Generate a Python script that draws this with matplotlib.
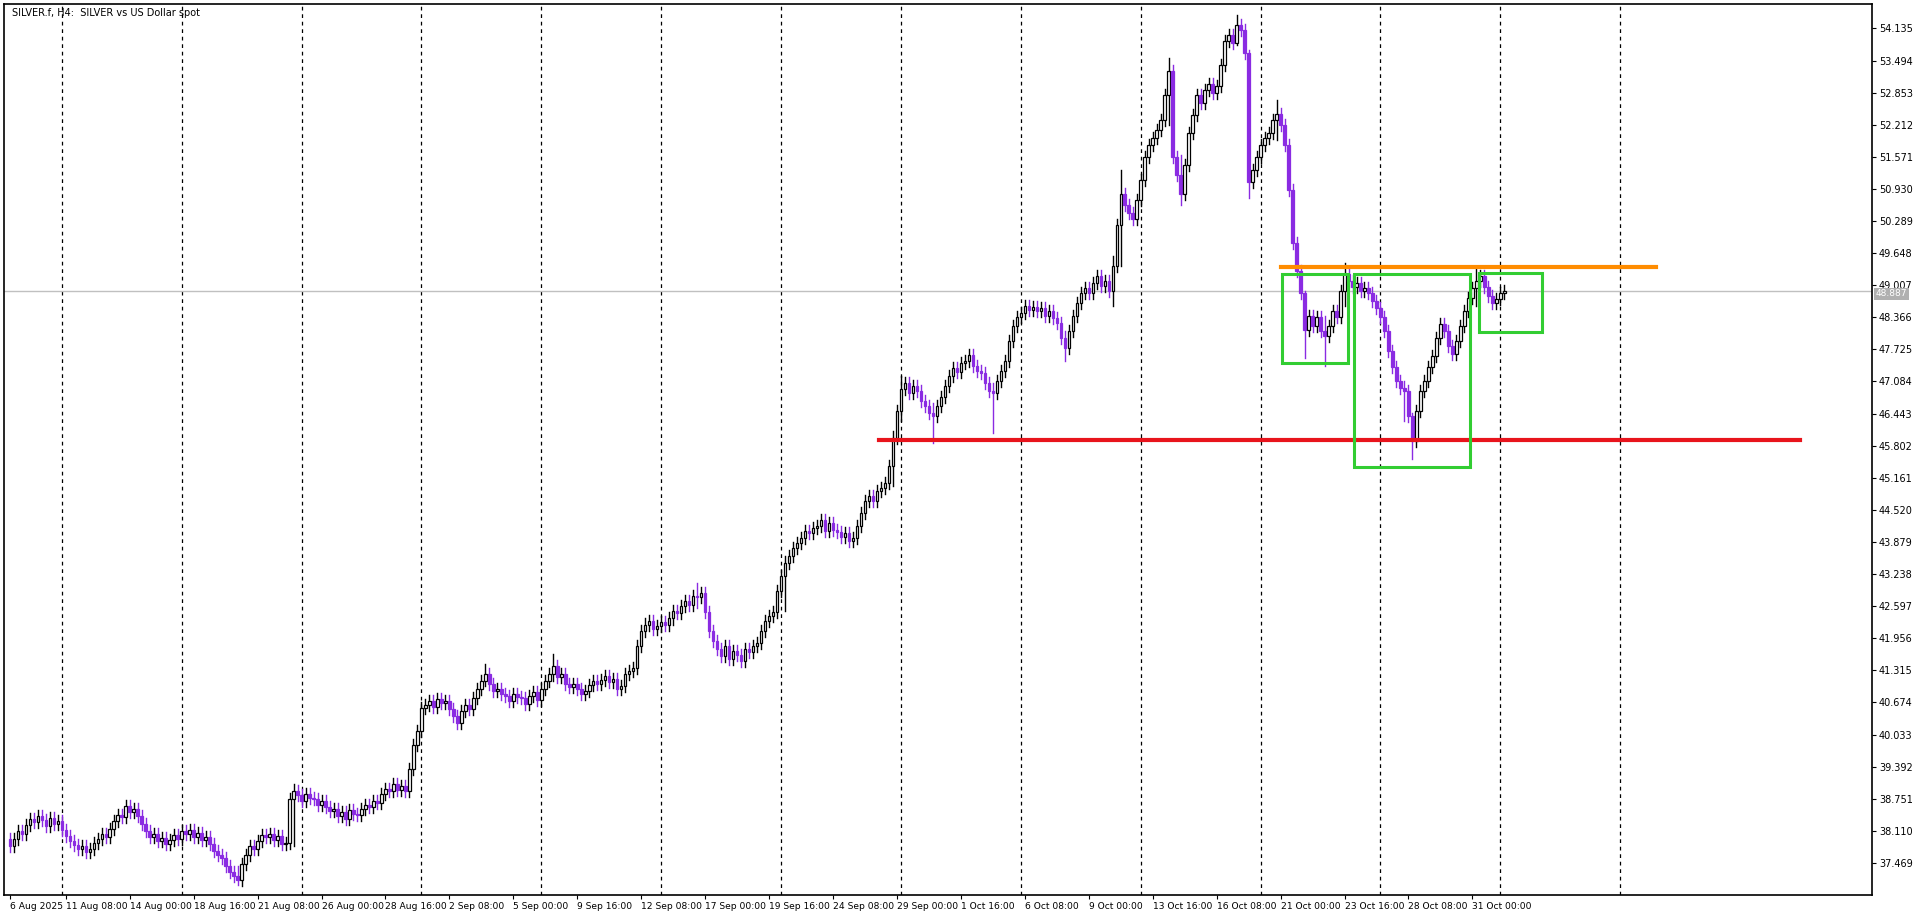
import numpy as np
import matplotlib.pyplot as plt
from matplotlib.patches import Rectangle

# H4 closes, one per bar
closes = [
    37.81, 37.95, 38.10, 38.05, 38.22, 38.35, 38.28, 38.40, 38.32, 38.20,
    38.36, 38.25, 38.30, 38.12, 38.00, 37.90, 37.82, 37.74, 37.80, 37.68,
    37.75, 37.86, 37.95, 38.05, 37.98, 38.15, 38.30, 38.43, 38.38, 38.60,
    38.48, 38.55, 38.40, 38.25, 38.10, 37.98, 38.05, 37.90, 37.96, 37.85,
    37.93, 38.02, 37.95, 38.10, 38.05, 38.12, 37.98, 38.06, 37.92, 37.98,
    37.85, 37.70, 37.62, 37.57, 37.40, 37.28, 37.20, 37.12, 37.45, 37.62,
    37.80, 37.75, 37.90, 38.02, 37.98, 38.05, 37.92, 38.00, 37.85, 37.86,
    38.75, 38.90, 38.82, 38.70, 38.85, 38.76, 38.74, 38.62, 38.70, 38.58,
    38.50, 38.55, 38.40, 38.48, 38.35, 38.52, 38.45, 38.43, 38.55, 38.62,
    38.58, 38.70, 38.67, 38.85, 38.95, 38.90, 39.04, 38.92, 39.00, 38.90,
    39.35, 39.82, 40.10, 40.56, 40.62, 40.70, 40.58, 40.75, 40.66, 40.70,
    40.55, 40.40, 40.26, 40.50, 40.62, 40.55, 40.76, 40.95, 41.10, 41.25,
    41.05, 40.90, 40.95, 40.85, 40.80, 40.70, 40.85, 40.78, 40.76, 40.65,
    40.80, 40.88, 40.72, 40.95, 41.10, 41.25, 41.40, 41.18, 41.25, 41.05,
    40.98, 41.05, 40.95, 40.85, 40.90, 41.02, 41.10, 41.05, 41.13, 41.20,
    41.08, 41.15, 40.95, 41.00, 41.25, 41.30, 41.37, 41.80, 42.10, 42.23,
    42.30, 42.15, 42.20, 42.28, 42.23, 42.35, 42.50, 42.45, 42.60, 42.70,
    42.62, 42.80, 42.77, 42.85, 42.48, 42.10, 41.90, 41.74, 41.60, 41.80,
    41.55, 41.70, 41.62, 41.50, 41.75, 41.68, 41.80, 41.86, 42.10, 42.30,
    42.40, 42.48, 42.90, 43.20, 43.46, 43.60, 43.75, 43.85, 43.95, 44.10,
    44.05, 44.15, 44.20, 44.32, 44.10, 44.25, 44.12, 44.07, 43.98, 44.05,
    43.90, 43.95, 44.20, 44.45, 44.69, 44.80, 44.70, 44.90, 44.95, 45.05,
    45.40, 45.96, 46.50, 46.94, 47.05, 46.85, 47.00, 46.90, 46.70, 46.60,
    46.45, 46.40, 46.60, 46.77, 47.00, 47.20, 47.35, 47.28, 47.45, 47.50,
    47.62, 47.40, 47.30, 47.26, 47.05, 46.90, 46.85, 47.10, 47.30, 47.50,
    47.90, 48.20, 48.37, 48.45, 48.60, 48.52, 48.58, 48.49, 48.55, 48.40,
    48.50, 48.35, 48.25, 47.95, 47.75, 48.10, 48.40, 48.65, 48.86, 48.95,
    48.85, 49.05, 49.20, 49.00, 49.10, 48.90, 49.40, 50.20, 50.82, 50.60,
    50.45, 50.33, 50.70, 51.10, 51.56, 51.80, 51.95, 52.10, 52.30, 52.80,
    53.28, 51.56, 51.20, 50.82, 51.40, 52.05, 52.40, 52.80, 52.65, 52.90,
    53.03, 52.85, 52.98, 53.40, 53.89, 54.00, 53.85, 54.20, 54.10, 53.65,
    51.07, 51.30, 51.56, 51.80, 51.95, 52.05, 52.30, 52.42, 52.20, 51.80,
    50.90, 49.84, 49.30, 48.86, 48.12, 48.40, 48.20, 48.37, 48.10, 48.00,
    48.20, 48.50, 48.37, 48.90, 49.23, 49.10, 48.98, 49.05, 48.90, 48.95,
    48.86, 48.70, 48.55, 48.37, 48.10, 47.70, 47.38, 47.10, 46.95, 46.89,
    46.40, 45.90, 46.50, 46.89, 47.10, 47.38, 47.60, 47.95, 48.24, 48.10,
    47.80, 47.63, 47.90, 48.20, 48.49, 48.75, 48.95, 49.10, 49.20, 48.98,
    48.80, 48.65, 48.74, 48.85, 48.90,
]
first_open = 37.95
# notable wick extremes: bar -> (high, low)
extremes = {
    57: (37.40, 37.02), 71: (39.05, 37.80), 119: (41.45, 41.00), 136: (41.65, 41.10),
    172: (43.05, 42.55), 194: (43.60, 42.50), 221: (46.10, 45.00), 223: (47.20, 46.30),
    231: (46.65, 45.85), 246: (47.05, 46.05), 264: (48.10, 47.50), 276: (49.60, 48.60),
    278: (51.30, 49.40), 290: (53.55, 52.20), 293: (51.60, 50.60), 307: (54.40, 53.80),
    310: (53.70, 50.75), 317: (52.70, 51.90), 324: (48.90, 47.55), 329: (48.40, 47.40),
    334: (49.45, 48.60), 349: (47.10, 46.30), 351: (46.45, 45.54), 367: (49.35, 48.60),
}

xlabels = ["6 Aug 2025", "11 Aug 08:00", "14 Aug 00:00", "18 Aug 16:00", "21 Aug 08:00",
           "26 Aug 00:00", "28 Aug 16:00", "2 Sep 08:00", "5 Sep 00:00", "9 Sep 16:00",
           "12 Sep 08:00", "17 Sep 00:00", "19 Sep 16:00", "24 Sep 08:00", "29 Sep 00:00",
           "1 Oct 16:00", "6 Oct 08:00", "9 Oct 00:00", "13 Oct 16:00", "16 Oct 08:00",
           "21 Oct 00:00", "23 Oct 16:00", "28 Oct 08:00", "31 Oct 00:00"]
xlabel_bars = [0] + [14 + 16 * k for k in range(len(xlabels) - 1)]
grid_bars = [13 + 30 * k for k in range(14)]
yticks = [37.469 + 0.641 * k for k in range(27)]

resistance = 49.37      # orange
support = 45.91         # red
last_price = 48.887
boxes = [(318.4, 47.46, 334.9, 49.23), (336.4, 45.37, 365.4, 49.23), (367.6, 48.07, 383.5, 49.25)]

bull_c = 'black'
bear_c = '#8a2be2'

fig = plt.figure(figsize=(19.2, 9.15), dpi=100)
ax = fig.add_axes([0.002, 0.022, 0.973, 0.974])

n = len(closes)
opens = [first_open] + closes[:-1]
w = 0.62
for i in range(n):
    o, c = opens[i], closes[i]
    hi = max(o, c) + 0.12
    lo = min(o, c) - 0.12
    if i in extremes:
        hi, lo = extremes[i]
    col = bull_c if c >= o else bear_c
    ax.plot([i, i], [lo, hi], color=col, lw=1.0, zorder=3)
    body = max(abs(c - o), 0.02)
    if c >= o:
        ax.add_patch(Rectangle((i - w / 2, o), w, body, facecolor='white', edgecolor='black', lw=0.9, zorder=4))
    else:
        ax.add_patch(Rectangle((i - w / 2, c), w, body, facecolor=bear_c, edgecolor=bear_c, lw=0.9, zorder=4))

for g in grid_bars:
    ax.axvline(g, color='black', ls=(0, (3, 3)), lw=0.9, zorder=1)
ax.axhline(last_price, color='#c0c0c0', lw=1.0, zorder=2)

ax.plot([318, 412], [resistance, resistance], color='#ff8c00', lw=3, zorder=5)
ax.plot([217.5, 448], [support, support], color='#e8141c', lw=3, zorder=5)
for x0, y0, x1, y1 in boxes:
    ax.add_patch(Rectangle((x0, y0), x1 - x0, y1 - y0, fill=False, edgecolor='#32cd32', lw=2.2, zorder=6))

ax.set_xlim(-1.5, 466)
ax.set_ylim(36.83, 54.63)
ax.yaxis.tick_right()
ax.set_yticks(yticks)
ax.set_yticklabels([f'{v:.3f}' for v in yticks], fontsize=7)
ax.set_xticks(xlabel_bars)
ax.set_xticklabels(xlabels, fontsize=6.6, ha='left')
ax.tick_params(axis='both', length=3, width=0.8, pad=2)
for s in ax.spines.values():
    s.set_linewidth(1.2)

ax.text(0.5, 54.45, 'SILVER.f, H4:  SILVER vs US Dollar spot', fontsize=7, va='center', ha='left')
ax.text(1.002, last_price - 0.05, f'{last_price:.3f}', transform=ax.get_yaxis_transform(),
        fontsize=6.5, color='white', va='center', ha='left',
        bbox=dict(facecolor='#b0b0b0', edgecolor='none', pad=1.2), zorder=10, clip_on=False)

fig.savefig('out.png', dpi=100)
